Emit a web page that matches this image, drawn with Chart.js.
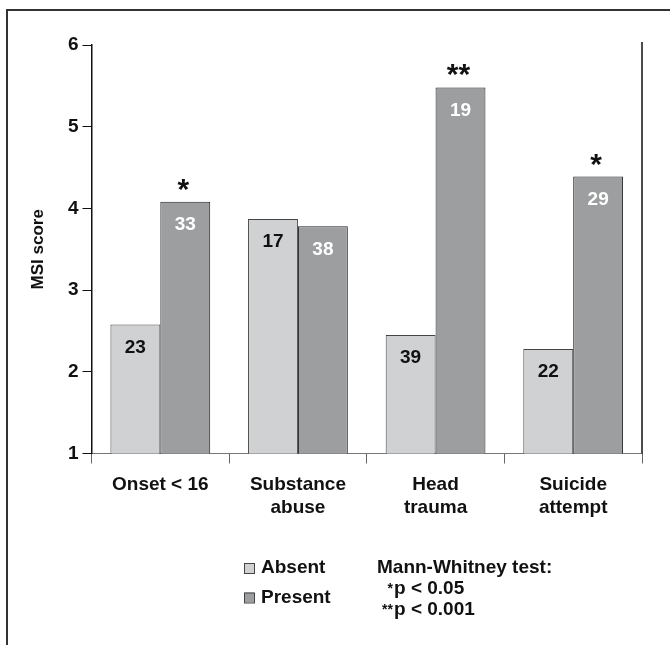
<!DOCTYPE html>
<html>
<head>
<meta charset="utf-8">
<script src="https://cdn.jsdelivr.net/npm/chart.js@4"></script>
<style>
  html, body { margin: 0; padding: 0; background: #fff; }
  #wrap { position: relative; width: 670px; height: 645px; overflow: hidden; }
  #msiChart { position: absolute; left: 0; top: 0; }
  #frame {
    position: absolute; left: 6px; top: 9px; right: 0; bottom: 0;
    border-top: 2px solid #333; border-left: 2px solid #333;
    pointer-events: none;
  }
</style>
</head>
<body>
<div id="wrap">
  <canvas id="msiChart" width="670" height="645"></canvas>
  <div id="frame"></div>
</div>
<script>
// chart values
const categories = [["Onset < 16"], ["Substance", "abuse"], ["Head", "trauma"], ["Suicide", "attempt"]];
const absentScores = [2.58, 3.87, 2.45, 2.28];
const presentScores = [4.08, 3.78, 5.48, 4.39];
const absentN = [23, 17, 39, 22];
const presentN = [33, 38, 19, 29];
const significance = ["*", "", "**", "*"];
const yTicks = [1, 2, 3, 4, 5, 6];

const FONT = "'Liberation Sans', Arial, sans-serif";

// n inside each bar + asterisks above the "Present" bars
const barLabels = {
  id: "barLabels",
  afterDatasetsDraw(chart) {
    const c = chart.ctx;
    c.save();
    c.textAlign = "center";
    c.textBaseline = "middle";
    c.font = "bold 19px " + FONT;
    chart.data.datasets.forEach((ds, i) => {
      chart.getDatasetMeta(i).data.forEach((bar, j) => {
        c.fillStyle = i === 0 ? "#111" : "#fff";
        c.fillText(ds.counts[j], bar.x, bar.y + 23);
      });
    });
    c.font = "bold 30px " + FONT;
    c.textBaseline = "alphabetic";
    c.fillStyle = "#111";
    const present = chart.getDatasetMeta(1).data;
    significance.forEach((s, j) => {
      if (!s) return;
      const m = c.measureText(s);
      const mid = (m.actualBoundingBoxAscent - m.actualBoundingBoxDescent) / 2;
      c.fillText(s, present[j].x - 2, present[j].y - 17 + mid);
    });
    c.restore();
  },
};

// right border of the plot
const rightLine = {
  id: "rightLine",
  afterDraw(chart) {
    const a = chart.chartArea;
    const c = chart.ctx;
    c.save();
    c.strokeStyle = "#111";
    c.lineWidth = 1.5;
    c.beginPath();
    c.moveTo(a.right, a.top - 3);
    c.lineTo(a.right, a.bottom);
    c.stroke();
    c.restore();
  },
};

// legend + test note under the chart
const noteLegend = {
  id: "noteLegend",
  afterDraw(chart) {
    const c = chart.ctx;
    c.save();
    c.textBaseline = "middle";
    c.textAlign = "left";
    c.font = "bold 19px " + FONT;
    chart.data.datasets.forEach((ds, i) => {
      const y = 568 + i * 29.5;
      c.fillStyle = ds.backgroundColor;
      c.fillRect(244, y - 5, 10, 10);
      c.strokeStyle = "#444";
      c.lineWidth = 1;
      c.strokeRect(244.5, y - 4.5, 10, 10);
      c.fillStyle = "#111";
      c.fillText(ds.label, 261, y);
    });
    c.fillText("Mann-Whitney test:", 377, 568);
    c.fillText("p < 0.05", 394, 589);
    c.fillText("p < 0.001", 394, 610);
    c.font = "bold 14px " + FONT;
    c.textAlign = "right";
    c.fillText("*", 393, 589);
    c.fillText("**", 393, 610);
    c.restore();
  },
};

document.addEventListener("DOMContentLoaded", () => {
  const ctx = document.getElementById("msiChart").getContext("2d");
  const msiChart = new Chart(ctx, {
    type: "bar",
    data: {
      labels: categories,
      datasets: [
        {
          label: "Absent",
          data: absentScores,
          counts: absentN,
          backgroundColor: "#d0d1d3",
          borderColor: "#444",
          borderWidth: 1,
          borderSkipped: "bottom",
        },
        {
          label: "Present",
          data: presentScores,
          counts: presentN,
          backgroundColor: "#9d9ea0",
          borderColor: "#222",
          borderWidth: 1,
          borderSkipped: "bottom",
        },
      ],
    },
    options: {
      responsive: false,
      animation: false,
      layout: {
        padding: { left: 0, right: 28, top: 45, bottom: 0 },
      },
      categoryPercentage: 0.725,
      barPercentage: 1,
      plugins: {
        legend: { display: false },
        tooltip: { enabled: false },
      },
      scales: {
        x: {
          afterFit: (scale) => {
            scale.height = 191.5;
          },
          grid: {
            drawOnChartArea: false,
            tickLength: 10,
            color: "#666",
            offset: true,
          },
          border: { color: "#777", width: 1 },
          ticks: {
            color: "#111",
            padding: 9,
            font: { family: FONT, size: 19, weight: "bold", lineHeight: 1.25 },
          },
        },
        y: {
          min: 1,
          max: 6,
          afterBuildTicks: (scale) => {
            scale.ticks = yTicks.map((v) => ({ value: v }));
          },
          afterFit: (scale) => {
            scale.width = 91.5;
          },
          grid: {
            drawOnChartArea: false,
            tickLength: 9,
            color: "#111",
          },
          border: { color: "#111", width: 1.5 },
          ticks: {
            color: "#111",
            padding: 4,
            font: { family: FONT, size: 19, weight: "bold" },
          },
          title: {
            display: true,
            text: "MSI score",
            color: "#111",
            padding: { top: 28, bottom: 0 },
            font: { family: FONT, size: 17, weight: "bold" },
          },
        },
      },
    },
    plugins: [barLabels, rightLine, noteLegend],
  });
});
</script>
</body>
</html>
